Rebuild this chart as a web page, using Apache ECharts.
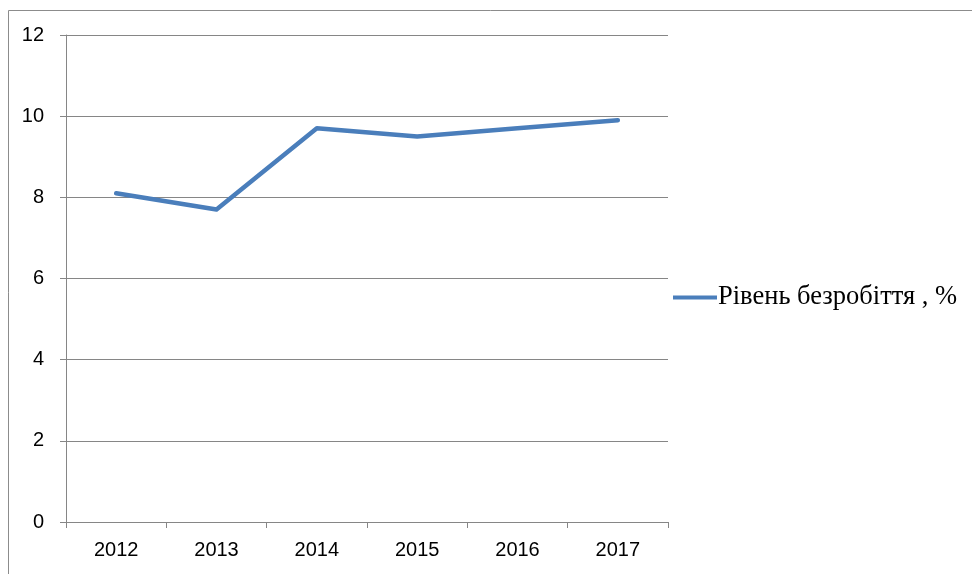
<!DOCTYPE html>
<html>
<head>
<meta charset="utf-8">
<script src="https://cdn.jsdelivr.net/npm/echarts@6/dist/echarts.min.js"></script>
<style>
  html, body { margin: 0; padding: 0; background: #fff; }
  #chart { width: 972px; height: 574px; }
</style>
</head>
<body>
<div id="chart"></div>
<script>
const years = ["2012", "2013", "2014", "2015", "2016", "2017"];
const unemployment = [8.1, 7.7, 9.7, 9.5, 9.7, 9.9];
const seriesName = "Рівень безробіття , %";

const chart = echarts.init(document.getElementById("chart"));

const option = {
  animation: false,
  backgroundColor: "#fff",
  grid: { left: 66, top: 35, width: 602, height: 487 },
  graphic: [
    {
      type: "rect",
      shape: { x: 8.5, y: 10.5, width: 1000, height: 600 },
      style: { fill: "none", stroke: "#8c8c8c", lineWidth: 1 },
      silent: true,
    },
  ],
  legend: {
    data: [seriesName],
    left: 668,
    top: 279,
    itemWidth: 44,
    itemHeight: 4,
    itemGap: 0,
    icon: "rect",
    textStyle: {
      fontFamily: "Liberation Serif",
      fontSize: 26.5,
      color: "#000",
      padding: [0, 0, 0, -4],
    },
  },
  xAxis: {
    type: "category",
    data: years,
    boundaryGap: true,
    axisLine: { lineStyle: { color: "#868686", width: 1 } },
    axisTick: { show: true, length: 6, lineStyle: { color: "#868686" } },
    axisLabel: {
      fontFamily: "Liberation Sans",
      fontSize: 20,
      color: "#000",
      margin: 18,
    },
    splitLine: { show: false },
  },
  yAxis: {
    type: "value",
    min: 0,
    max: 12,
    interval: 2,
    axisLine: { show: true, lineStyle: { color: "#868686", width: 1 } },
    axisTick: { show: true, length: 6, lineStyle: { color: "#868686" } },
    axisLabel: {
      fontFamily: "Liberation Sans",
      fontSize: 20,
      color: "#000",
      margin: 22,
    },
    splitLine: { show: true, lineStyle: { color: "#868686", width: 1 } },
  },
  series: [
    {
      name: seriesName,
      type: "line",
      data: unemployment,
      symbol: "none",
      lineStyle: { color: "#4a7ebb", width: 4.5, cap: "round", join: "round" },
      itemStyle: { color: "#4a7ebb" },
    },
  ],
};

chart.setOption(option);
</script>
</body>
</html>
